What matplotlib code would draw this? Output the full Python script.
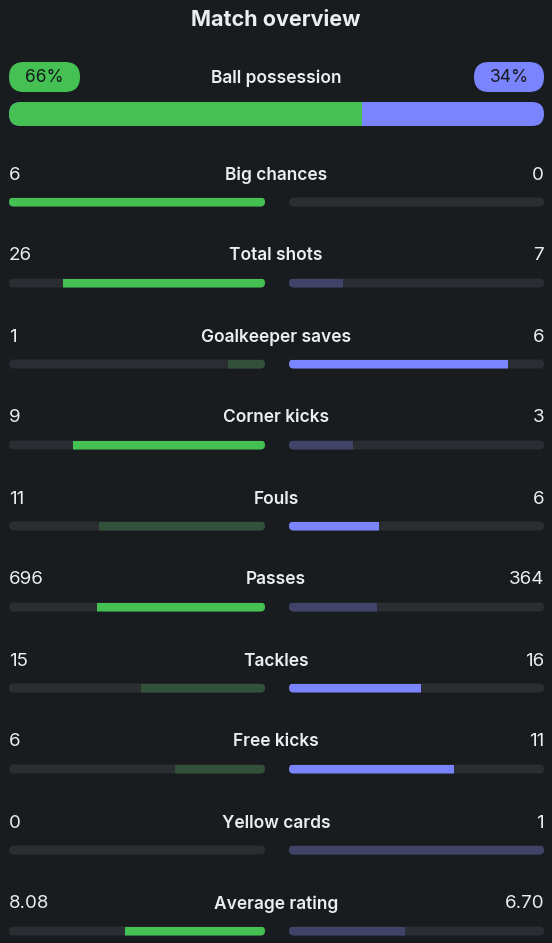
import matplotlib.pyplot as plt
from matplotlib.patches import FancyBboxPatch, Rectangle

# possession
poss_home = 66
poss_away = 34

# stats
stat_names = ["Big chances", "Total shots", "Goalkeeper saves", "Corner kicks", "Fouls",
              "Passes", "Tackles", "Free kicks", "Yellow cards", "Average rating"]
home_vals = [6, 26, 1, 9, 11, 696, 15, 6, 0, 8.08]
away_vals = [0, 7, 6, 3, 6, 364, 16, 11, 1, 6.70]
home_text = ["6", "26", "1", "9", "11", "696", "15", "6", "0", "8.08"]
away_text = ["0", "7", "6", "3", "6", "364", "16", "11", "1", "6.70"]
lower_better = [False, False, False, False, True, False, False, False, True, False]

BG = "#181c1f"
TRACK = "#2a2e32"
GREEN = "#45c153"
PURPLE = "#7b84ff"
GREEN_DIM = "#31513a"
PURPLE_DIM = "#414468"
TXT = "#e9eef2"

plt.rcParams["font.family"] = ["Inter", "DejaVu Sans"]

fig = plt.figure(figsize=(5.52, 9.43), dpi=100, facecolor=BG)
ax = fig.add_axes([0, 0, 1, 1])
ax.set_facecolor(BG)
ax.set_xlim(0, 552)
ax.set_ylim(943, 0)
ax.axis("off")

ax.text(276, 20, "Match overview", ha="center", va="center", color=TXT,
        fontsize=15.5, fontweight="bold")

# ball possession
ax.text(276, 78, "Ball possession", ha="center", va="center", color=TXT,
        fontsize=12.5, fontweight="semibold")
for x0, w, col, txt in [(9, 71, GREEN, f"{poss_home}%"), (474, 70, PURPLE, f"{poss_away}%")]:
    ax.add_patch(FancyBboxPatch((x0, 62), w, 30, boxstyle="round,pad=0,rounding_size=15",
                                fc=col, ec="none"))
    ax.text(x0 + w / 2, 78, txt, ha="center", va="center", color="#15191c", fontsize=12.5)

track = FancyBboxPatch((9, 102), 535, 24, boxstyle="round,pad=0,rounding_size=12",
                       fc=PURPLE, ec="none")
ax.add_patch(track)
split = 9 + 535 * poss_home / (poss_home + poss_away)
g = Rectangle((9, 102), split - 9, 24, fc=GREEN, ec="none")
ax.add_patch(g)
g.set_clip_path(track)

# stat rows
bar_w = 256
bar_h = 9
for i, name in enumerate(stat_names):
    ty = 175 + 81 * i
    by = 202 + 81 * i
    h, a = home_vals[i], away_vals[i]
    tot = h + a
    fh = h / tot if tot else 0
    fa = a / tot if tot else 0
    if lower_better[i]:
        home_win = h < a
    else:
        home_win = h > a
    hc = GREEN if home_win else GREEN_DIM
    ac = PURPLE_DIM if home_win else PURPLE

    ax.text(9, ty, home_text[i], ha="left", va="center", color=TXT, fontsize=13.5)
    ax.text(544, ty, away_text[i], ha="right", va="center", color=TXT, fontsize=13.5)
    ax.text(276, ty, name, ha="center", va="center", color=TXT, fontsize=12.5,
            fontweight="semibold")

    lt = FancyBboxPatch((9, by - bar_h / 2), bar_w, bar_h,
                        boxstyle="round,pad=0,rounding_size=4.5", fc=TRACK, ec="none")
    rt = FancyBboxPatch((289, by - bar_h / 2), bar_w - 1, bar_h,
                        boxstyle="round,pad=0,rounding_size=4.5", fc=TRACK, ec="none")
    ax.add_patch(lt)
    ax.add_patch(rt)
    lf = Rectangle((9 + bar_w * (1 - fh), by - bar_h / 2), bar_w * fh, bar_h, fc=hc, ec="none")
    rf = Rectangle((289, by - bar_h / 2), (bar_w - 1) * fa, bar_h, fc=ac, ec="none")
    ax.add_patch(lf)
    ax.add_patch(rf)
    lf.set_clip_path(lt)
    rf.set_clip_path(rt)

fig.savefig("out.png", dpi=100, facecolor=BG)
